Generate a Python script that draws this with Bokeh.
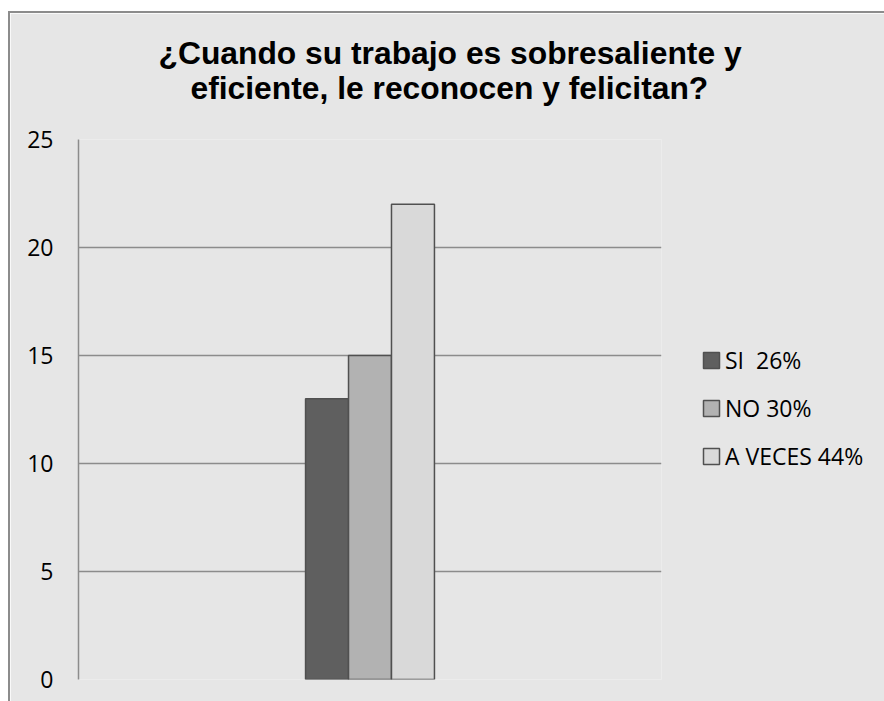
from bokeh.plotting import figure
from bokeh.models import Range1d, Legend, LegendItem, Title, FixedTicker, ColumnDataSource
from bokeh.embed import file_html
from bokeh.resources import INLINE

categories = ["SI  26%", "NO 30%", "A VECES 44%"]
values = [13, 15, 22]
y_ticks = [0, 5, 10, 15, 20, 25]
title_lines = ["¿Cuando su trabajo es sobresaliente y", "eficiente, le reconocen y felicitan?"]
fills = ["#5F5F5F", "#B2B2B2", "#D9D9D9"]

BAR_W = 0.0737
xs = [0.5 + (i - 1) * BAR_W for i in range(len(values))]

p = figure(frame_width=583, frame_height=540, output_backend="svg", toolbar_location=None,
           x_range=Range1d(0, 1), y_range=Range1d(0, 25),
           min_border_left=68, min_border_right=226, min_border_top=126, min_border_bottom=25,
           background_fill_color="#E6E6E6", border_fill_color="#E6E6E6",
           outline_line_color=None,
           margin=(13, 0, 0, 10),
           styles={"outline": "2px solid #8C8C8C"})

src = ColumnDataSource(dict(x=xs, top=values, cat=categories, fill=fills))
r = p.vbar(x="x", top="top", bottom=0, width=BAR_W, fill_color="fill",
           line_color="#505050", line_width=1.5, source=src)

p.xaxis.visible = False
p.xgrid.visible = False
p.ygrid.ticker = FixedTicker(ticks=y_ticks)
p.ygrid.grid_line_color = "#8C8C8C"
p.ygrid.grid_line_width = 1.5

ax = p.yaxis[0]
ax.ticker = FixedTicker(ticks=y_ticks)
ax.axis_line_color = "#8C8C8C"
ax.axis_line_width = 1.5
ax.major_tick_line_color = None
ax.major_tick_out = 0
ax.major_tick_in = 0
ax.minor_tick_line_color = None
ax.major_label_standoff = 25
ax.major_label_text_font = "Open Sans"
ax.major_label_text_font_size = "23px"
ax.major_label_text_color = "#000000"

TFONT = "31.8px"
p.title.text = title_lines[0]
p.title.text_font = "Liberation Sans"
p.title.text_font_style = "bold"
p.title.text_font_size = TFONT
p.title.text_color = "#000000"
p.title.align = "left"
p.title.offset = 80
p.title.standoff = -74

t2 = Title(text=title_lines[1], text_font="Liberation Sans", text_font_style="bold",
           text_font_size=TFONT, text_color="#000000", align="left", offset=112, standoff=68)
p.add_layout(t2, "above")

items = [LegendItem(label=c, renderers=[r], index=i) for i, c in enumerate(categories)]
legend = Legend(items=items, location=(40, 207), orientation="vertical",
                glyph_width=20, glyph_height=20, label_height=20, spacing=16,
                label_standoff=4, padding=0, margin=0, border_line_color=None,
                background_fill_alpha=0, label_text_font="Open Sans",
                label_text_font_size="23px", label_text_color="#000000")
p.add_layout(legend, "right")

open("out.html", "w").write(file_html(p, INLINE))
